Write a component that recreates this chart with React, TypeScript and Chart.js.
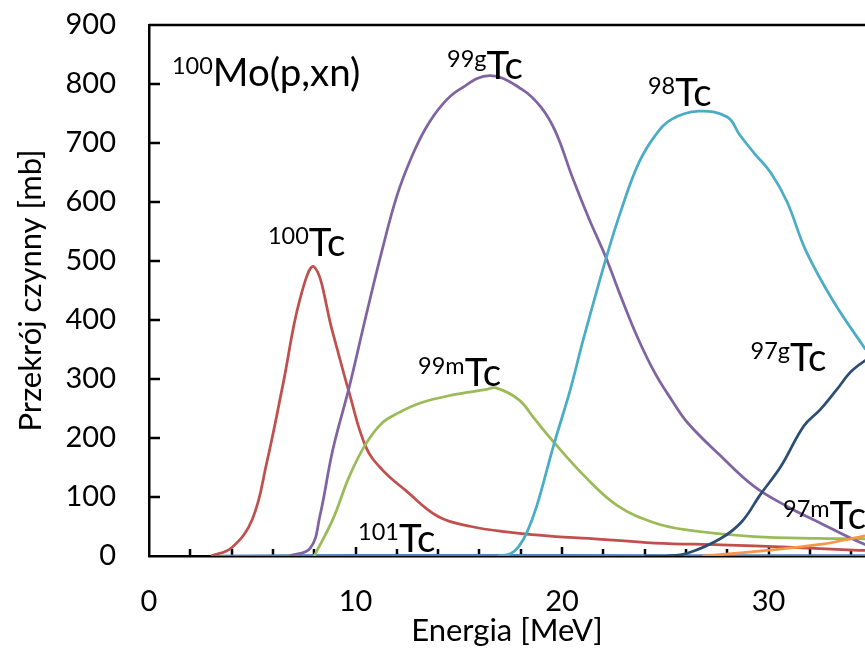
import React, { useEffect, useRef } from "react";
import { Chart, registerables } from "chart.js";

Chart.register(...registerables);

const FONT = "Lato, 'Open Sans', sans-serif";

// Energy [MeV] / cross-section [mb] per product
const E_TC100 = [3.0, 4.0, 5.0, 5.7, 6.5, 7.3, 8.0, 8.9, 9.7, 10.5, 11.3, 12.4, 14.0, 15.6, 17.3, 19.7, 21.3, 24.5, 27.7, 30.9, 34.1, 35.5];
const S_TC100 = [0, 14, 62, 158, 293, 434, 490, 378, 276, 185, 146, 112, 67, 50, 41, 33, 30, 22, 19, 15, 10, 9];

const E_TC99G = [6.8, 7.8, 8.27, 8.9, 9.7, 10.5, 11.3, 12.0, 12.7, 13.4, 14.2, 15.0, 16.5, 18.06, 19.0, 19.7, 20.5, 21.3, 22.1, 22.9, 23.7, 24.5, 25.3, 26.1, 27.7, 29.3, 30.9, 32.5, 34.5, 35.5];
const S_TC99G = [0, 13, 67, 180, 287, 406, 520, 610, 675, 725, 765, 790, 814, 791, 760, 718, 642, 572, 508, 435, 367, 310, 265, 225, 169, 118, 84, 56, 22, 10];

const E_TC99M = [8.0, 8.9, 9.7, 10.5, 11.3, 12.1, 13.1, 14.7, 16.3, 16.8, 17.9, 18.7, 19.5, 21.1, 22.7, 24.5, 26.1, 29.3, 32.5, 35.5];
const S_TC99M = [0, 62, 135, 190, 226, 243, 259, 273, 282, 285, 265, 231, 197, 135, 85, 56, 44, 33, 30, 29];

const E_TC98 = [16.9, 17.5, 17.9, 18.3, 18.77, 19.58, 20.4, 21.03, 22.16, 22.9, 23.7, 24.5, 25.3, 26.6, 28.0, 28.6, 29.3, 30.1, 30.9, 31.8, 33.1, 34.7, 35.5];
const S_TC98 = [0, 4, 16, 40, 84, 186, 282, 367, 508, 590, 665, 712, 740, 754, 744, 714, 683, 650, 600, 518, 434, 350, 310];

const E_TC97G = [24.0, 25.0, 26.1, 27.7, 28.7, 29.6, 30.6, 31.7, 32.5, 33.3, 34.1, 35.5];
const S_TC97G = [0, 0, 5, 30, 58, 104, 152, 220, 248, 282, 316, 350];

const E_TC97M = [26.8, 29.4, 32.6, 34.5, 35.5];
const S_TC97M = [0, 8, 20, 33, 38];

const E_TC101 = [3.0, 10.0, 20.0, 30.0, 35.5];
const S_TC101 = [0, 1, 1, 0.5, 0.5];

const X_TICK_LABELS = [0, 10, 20, 30];
const Y_TICK_LABELS = [0, 100, 200, 300, 400, 500, 600, 700, 800, 900];

const X_MAX = 34.67;

const LABELS = [
  { sup: "100", main: "Mo(p,xn)", e: 1.11, s: 797 },
  { sup: "100", main: "Tc", e: 5.76, s: 509 },
  { sup: "99g", main: "Tc", e: 14.43, s: 808 },
  { sup: "98", main: "Tc", e: 24.16, s: 762 },
  { sup: "99m", main: "Tc", e: 13.03, s: 288 },
  { sup: "97g", main: "Tc", e: 29.13, s: 314 },
  { sup: "101", main: "Tc", e: 10.12, s: 7 },
  { sup: "97m", main: "Tc", e: 30.7, s: 46 },
];

const pts = (xs: number[], ys: number[]) => xs.map((x, i) => ({ x, y: ys[i] }));

const decor = {
  id: "decor",
  beforeDatasetsDraw(chart: any) {
    const { ctx, chartArea, scales } = chart;
    const x = scales.x;
    const y = scales.y;
    ctx.save();
    ctx.strokeStyle = "#000";
    ctx.lineWidth = 2.5;
    ctx.beginPath();
    const ty = y.getPixelForValue(900);
    ctx.moveTo(chartArea.left, ty);
    ctx.lineTo(chartArea.right + 5, ty);
    ctx.stroke();
    ctx.beginPath();
    for (let v = 100; v < 900; v += 100) {
      const py = Math.round(y.getPixelForValue(v));
      ctx.moveTo(chartArea.left, py);
      ctx.lineTo(chartArea.left + 11, py);
    }
    for (let v = 2; v <= X_MAX; v += 2) {
      const px = Math.round(x.getPixelForValue(v));
      const len = v % 10 === 0 ? 9 : 7;
      ctx.moveTo(px, chartArea.bottom);
      ctx.lineTo(px, chartArea.bottom - len);
    }
    ctx.stroke();
    ctx.restore();
  },
  afterDatasetsDraw(chart: any) {
    const { ctx, scales } = chart;
    const x = scales.x;
    const y = scales.y;
    ctx.save();
    ctx.fillStyle = "#000";
    ctx.textBaseline = "alphabetic";
    ctx.textAlign = "left";
    for (const l of LABELS) {
      const px = x.getPixelForValue(l.e);
      const py = y.getPixelForValue(l.s);
      ctx.font = `23.5px ${FONT}`;
      ctx.fillText(l.sup, px, py - 12);
      const w = ctx.measureText(l.sup).width;
      ctx.font = `38.5px ${FONT}`;
      ctx.fillText(l.main, px + w, py);
    }
    ctx.restore();
  },
};

export default function App() {
  const ref = useRef<HTMLCanvasElement>(null);
  useEffect(() => {
    document.body.style.margin = "0";
    document.body.style.overflow = "hidden";
    const canvas = ref.current!;
    const line = (label: string, data: any[], color: string) => ({
      label,
      data,
      borderColor: color,
      backgroundColor: color,
      borderWidth: 2.75,
      pointRadius: 0,
      fill: false,
      tension: 0.4,
    });
    const zeroPad = (s: any) => {
      s.paddingTop = 0;
      s.paddingBottom = 0;
      s.paddingLeft = 0;
      s.paddingRight = 0;
    };
    const chart = new Chart(canvas, {
      type: "line",
      data: {
        datasets: [
          line("97gTc", pts(E_TC97G, S_TC97G), "#2C4D75"),
          line("97mTc", pts(E_TC97M, S_TC97M), "#F79646"),
          line("98Tc", pts(E_TC98, S_TC98), "#4BACC6"),
          line("99gTc", pts(E_TC99G, S_TC99G), "#8064A2"),
          line("99mTc", pts(E_TC99M, S_TC99M), "#9BBB59"),
          line("100Tc", pts(E_TC100, S_TC100), "#C0504D"),
          line("101Tc", pts(E_TC101, S_TC101), "#4F81BD"),
        ],
      },
      options: {
        animation: false,
        responsive: false,
        devicePixelRatio: 1,
        layout: { padding: { top: 25, right: 0, left: 0, bottom: 0 } },
        plugins: { legend: { display: false }, tooltip: { enabled: false } },
        scales: {
          x: {
            type: "linear",
            min: 0,
            max: X_MAX,
            grid: { display: false, drawTicks: false },
            border: { display: true, color: "#000", width: 2.5 },
            ticks: {
              stepSize: 10,
              includeBounds: false,
              autoSkip: false,
              maxRotation: 0,
              padding: 28,
              color: "#000",
              font: { family: FONT, size: 29 },
              callback: (v: any) => (X_TICK_LABELS.includes(Number(v)) ? String(v) : ""),
            },
            title: {
              display: true,
              text: "Energia [MeV]",
              color: "#000",
              font: { family: FONT, size: 31 },
              padding: { top: 0, bottom: 2 },
            },
            afterFit: (s: any) => {
              s.height = 96;
              zeroPad(s);
            },
          },
          y: {
            min: 0,
            max: 900,
            grid: { display: false, drawTicks: false },
            border: { display: true, color: "#000", width: 2.5 },
            ticks: {
              stepSize: 100,
              padding: 33,
              color: "#000",
              font: { family: FONT, size: 29 },
              callback: (v: any) => (Y_TICK_LABELS.includes(Number(v)) ? String(v) : ""),
            },
            title: {
              display: true,
              text: "Przekrój czynny [mb]",
              color: "#000",
              font: { family: FONT, size: 31 },
              padding: { top: 12, bottom: 0 },
            },
            afterFit: (s: any) => {
              s.width = 149;
              zeroPad(s);
            },
          },
        },
      },
      plugins: [decor],
    });
    return () => chart.destroy();
  }, []);
  return <canvas ref={ref} width={865} height={652} style={{ display: "block" }} />;
}
